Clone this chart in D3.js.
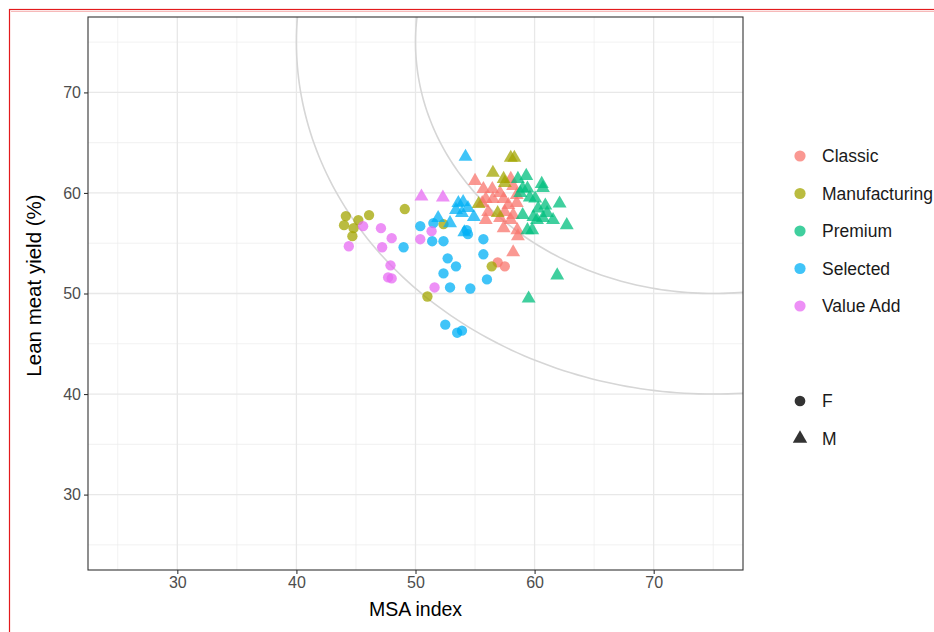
<!DOCTYPE html>
<html><head><meta charset="utf-8">
<script src="https://cdn.jsdelivr.net/npm/d3@7"></script>
<style>body{margin:0;background:#fff;}svg{display:block;font-family:"Liberation Sans",Arial,sans-serif;}</style>
</head><body>
<svg id="c" width="934" height="632"></svg>
<script>
const categories = ["Classic","Manufacturing","Premium","Selected","Value Add"];
const colors = ["#F8766D","#A3A500","#00BF7D","#00B0F6","#E76BF3"];
const sexes = ["F","M"];
const xTicks = [30,40,50,60,70];
const yTicks = [30,40,50,60,70];
const circleCenter = [75,75];
const circleRadii = [25,35];

// [MSA index, lean meat yield]
const classicF = [[56.9,53.1],[57.5,52.7]];
const classicM = [[55.0,61.2],[55.7,60.4],[56.45,60.4],[57.1,60.0],[58.0,61.4],[58.2,60.7],[58.5,59.8],[55.9,59.4],[56.5,59.4],[57.4,59.4],[55.6,59.0],[57.8,58.8],[58.5,59.0],[56.1,58.1],[57.5,58.1],[58.2,57.8],[57.1,57.5],[55.9,57.3],[57.4,56.5],[58.0,57.3],[58.55,56.3],[58.6,55.7],[58.2,54.1]];
const manufacturingF = [[44.0,56.8],[44.15,57.7],[44.8,56.5],[44.7,55.7],[45.2,57.3],[46.1,57.8],[49.1,58.4],[52.35,56.9],[51.0,49.7],[56.4,52.7]];
const manufacturingM = [[58.0,63.5],[58.3,63.5],[56.5,62.0],[57.4,61.4],[57.5,61.0],[55.3,58.9],[56.9,58.0]];
const premiumF = [];
const premiumM = [[58.6,61.4],[58.8,60.0],[59.0,57.8],[59.3,61.7],[59.0,60.45],[59.4,60.45],[60.6,60.9],[60.7,60.5],[60.05,59.45],[59.6,59.55],[60.9,58.75],[62.1,58.95],[60.3,58.45],[61.05,58.0],[59.9,57.6],[60.2,57.3],[60.7,57.5],[61.55,57.3],[62.7,56.8],[59.4,56.3],[59.8,56.3],[61.9,51.8],[59.5,49.5]];
const selectedF = [[49.0,54.6],[50.4,56.7],[51.5,57.0],[51.4,55.2],[52.35,55.2],[52.7,53.5],[52.35,52.0],[53.4,52.7],[52.9,50.6],[54.6,50.5],[52.5,46.9],[53.5,46.1],[53.9,46.3],[54.3,56.3],[54.4,55.9],[55.7,55.4],[55.7,53.9],[56.0,51.4]];
const selectedM = [[54.2,63.6],[53.6,59.0],[54.0,59.1],[54.4,58.5],[53.9,58.0],[53.4,58.3],[51.9,57.5],[52.9,57.0],[54.1,56.1],[54.9,57.6]];
const valueAddF = [[44.4,54.7],[45.6,56.7],[47.1,56.5],[47.2,54.6],[48.0,55.5],[47.9,52.8],[47.7,51.6],[48.0,51.5],[50.4,55.4],[51.35,56.2],[51.6,50.6]];
const valueAddM = [[50.5,59.65],[52.3,59.55]];

const groups = [
  [classicF, classicM],
  [manufacturingF, manufacturingM],
  [premiumF, premiumM],
  [selectedF, selectedM],
  [valueAddF, valueAddM]
];
const points = [];
groups.forEach((g,ci)=>g.forEach((arr,si)=>arr.forEach(d=>points.push({x:d[0],y:d[1],cat:categories[ci],sex:sexes[si]}))));

const svg = d3.select("#c");
const L=88, R=743, T=17, B=570;
const x = d3.scaleLinear().domain([22.5,77.5]).range([L,R]);
const y = d3.scaleLinear().domain([22.5,77.5]).range([B,T]);
const color = d3.scaleOrdinal().domain(categories).range(colors);

// outer red frame
svg.append("rect").attr("x",9.5).attr("y",9.5).attr("width",940).attr("height",640).attr("fill","none").attr("stroke","#e31a1c").attr("stroke-width",1.2);
svg.append("line").attr("x1",11).attr("x2",934).attr("y1",11.5).attr("y2",11.5).attr("stroke","#f6b9b9").attr("stroke-width",1);

const defs = svg.append("defs");
defs.append("clipPath").attr("id","clip").append("rect").attr("x",L).attr("y",T).attr("width",R-L).attr("height",B-T);

const minor = [25,35,45,55,65,75];
const gGrid = svg.append("g");
minor.forEach(v=>{
  gGrid.append("line").attr("x1",x(v)).attr("x2",x(v)).attr("y1",T).attr("y2",B).attr("stroke","#ebebeb").attr("stroke-width",0.7);
  gGrid.append("line").attr("y1",y(v)).attr("y2",y(v)).attr("x1",L).attr("x2",R).attr("stroke","#ebebeb").attr("stroke-width",0.7);
});
xTicks.forEach(v=>gGrid.append("line").attr("x1",x(v)).attr("x2",x(v)).attr("y1",T).attr("y2",B).attr("stroke","#e8e8e8").attr("stroke-width",1.3));
yTicks.forEach(v=>gGrid.append("line").attr("y1",y(v)).attr("y2",y(v)).attr("x1",L).attr("x2",R).attr("stroke","#e8e8e8").attr("stroke-width",1.3));

// reference circles
const gArc = svg.append("g").attr("clip-path","url(#clip)");
const angles = d3.range(0,361,1).map(a=>a*Math.PI/180);
circleRadii.forEach(r=>{
  const line = d3.line().x(a=>x(circleCenter[0]+r*Math.cos(a))).y(a=>y(circleCenter[1]+r*Math.sin(a)));
  gArc.append("path").attr("d",line(angles)).attr("fill","none").attr("stroke","#d6d6d6").attr("stroke-width",1.6);
});

// points
const sym = d3.scaleOrdinal().domain(sexes).range([d3.symbolCircle,d3.symbolTriangle]);
svg.append("g").attr("clip-path","url(#clip)").selectAll("path").data(points).join("path")
  .attr("transform",d=>`translate(${x(d.x)},${y(d.y)})`)
  .attr("d",d=>d3.symbol().type(sym(d.sex)).size(84)())
  .attr("fill",d=>color(d.cat)).attr("fill-opacity",0.75);

// panel border
svg.append("rect").attr("x",L).attr("y",T).attr("width",R-L).attr("height",B-T).attr("fill","none").attr("stroke","#333").attr("stroke-width",1.1);

// axes
const xAxis = svg.append("g").attr("transform",`translate(0,${B})`).call(d3.axisBottom(x).tickValues(xTicks).tickSize(4).tickPadding(3));
const yAxis = svg.append("g").attr("transform",`translate(${L},0)`).call(d3.axisLeft(y).tickValues(yTicks).tickSize(4).tickPadding(3));
[xAxis,yAxis].forEach(a=>{
  a.select(".domain").remove();
  a.selectAll(".tick line").attr("stroke","#333").attr("stroke-width",1.1);
  a.selectAll(".tick text").attr("fill","#4d4d4d").style("font-size","16px").style("font-family","'Liberation Sans',Arial,sans-serif");
});

svg.append("text").attr("x",(L+R)/2).attr("y",616).attr("text-anchor","middle").style("font-size","19.5px").attr("fill","#000").text("MSA index");
svg.append("text").attr("transform",`translate(41,${(T+B)/2-8}) rotate(-90)`).attr("text-anchor","middle").style("font-size","20.5px").attr("fill","#000").text("Lean meat yield (%)");

// legends
const lg = svg.append("g");
categories.forEach((c,i)=>{
  const yy = 156 + i*37.5;
  lg.append("circle").attr("cx",800).attr("cy",yy).attr("r",5.6).attr("fill",colors[i]).attr("fill-opacity",0.75);
  lg.append("text").attr("x",822).attr("y",yy).attr("dy","0.35em").style("font-size","17.5px").attr("fill","#1a1a1a").text(c);
});
sexes.forEach((s,i)=>{
  const yy = 401 + i*37.5;
  lg.append("path").attr("transform",`translate(800,${yy})`).attr("d",d3.symbol().type(sym(s)).size(90)()).attr("fill","#333");
  lg.append("text").attr("x",822).attr("y",yy).attr("dy","0.35em").style("font-size","17.5px").attr("fill","#1a1a1a").text(s);
});
</script>
</body></html>
